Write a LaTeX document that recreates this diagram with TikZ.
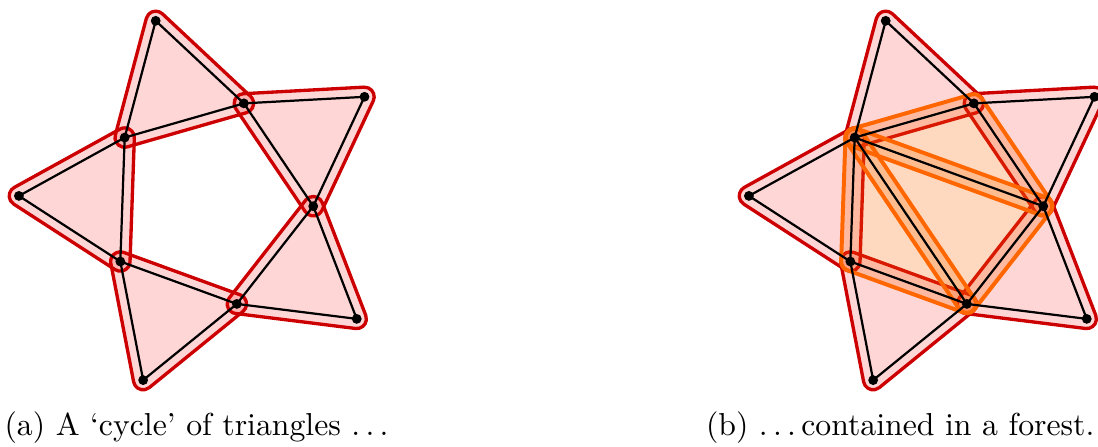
\documentclass[tikz,border=0pt]{standalone}
\usetikzlibrary{calc}
\definecolor{hred}{RGB}{204,0,0}
\definecolor{hpink}{RGB}{255,0,0}
\definecolor{horange}{RGB}{255,102,0}
\def\hr{3.05pt}
\def\ho{2.9pt}
\newcommand\spdots{.\kern0.1667em.\kern0.1667em.}
% #1 style, #2 offset radius, #3 #4 #5 corners in counter-clockwise order
\newcommand\hedge[5]{%
  \path[#1] let \p1=(#3), \p2=(#4), \p3=(#5),
     \n1={atan2(\y2-\y1,\x2-\x1)},
     \n2={atan2(\y3-\y2,\x3-\x2)},
     \n3={atan2(\y1-\y3,\x1-\x3)},
     \n4={\n1-90}, \n5={\n2-90}, \n6={\n3-90},
     \n7={mod(\n2-(\n1)+720,360)},
     \n8={mod(\n3-(\n2)+720,360)},
     \n9={mod(\n1-(\n3)+720,360)}
   in ($(\p1)+(\n4:#2)$) -- ($(\p2)+(\n4:#2)$)
      arc[start angle=\n4, delta angle=\n7, radius=#2]
      -- ($(\p3)+(\n5:#2)$)
      arc[start angle=\n5, delta angle=\n8, radius=#2]
      -- ($(\p1)+(\n6:#2)$)
      arc[start angle=\n6, delta angle=\n9, radius=#2]
      -- cycle;
}
\begin{document}
\begin{tikzpicture}[x=0.315pt,y=0.315pt,
  redH/.style={fill=hpink, fill opacity=0.16, draw=hred, line width=1.05pt, line join=round},
  orH/.style={fill=horange, fill opacity=0.25, draw=horange, line width=1.25pt, line join=round},
  edgeline/.style={line width=0.7pt, black, line cap=round, line join=round},
  vdot/.style={circle, fill=black, inner sep=0pt, minimum size=3.1pt}]
\useasboundingbox (0,0) rectangle (1098,446);
\foreach \f/\cx in {l/207.8, r/937.8} {
  \foreach \k in {0,...,4} {
    \coordinate (\f i\k) at ($(\cx,243.5)+({142-72*\k}:105.5)$);
    \coordinate (\f o\k) at ($(\cx,243.5)+({106-72*\k}:189)$);
  }
}
% red hyperedges
\foreach \f in {l,r} {
  \foreach \k in {0,...,4} {
    \pgfmathtruncatemacro\j{mod(\k+1,5)}
    \hedge{redH}{\hr}{\f o\k}{\f i\k}{\f i\j}
  }
}
% orange hyperedges
\hedge{orH}{\ho}{ri0}{ri2}{ri1}
\hedge{orH}{\ho}{ri0}{ri3}{ri2}
\hedge{orH}{\ho}{ri0}{ri4}{ri3}
% edges
\foreach \f in {l,r} {
  \foreach \k in {0,...,4} {
    \pgfmathtruncatemacro\j{mod(\k+1,5)}
    \draw[edgeline] (\f o\k) -- (\f i\k) -- (\f i\j) -- cycle;
  }
}
\draw[edgeline] (ri0) -- (ri2);
\draw[edgeline] (ri0) -- (ri3);
% vertices
\foreach \f in {l,r} {
  \foreach \k in {0,...,4} {
    \node[vdot] (\f vi\k) at (\f i\k) {};
    \node[vdot] (\f vo\k) at (\f o\k) {};
  }
}
% captions
\node[anchor=base west, inner sep=0pt] (capa) at (4,11) {(a) A `cycle' of triangles \spdots};
\node[anchor=base east, inner sep=0pt] (capb) at (1095,11) {(b) \spdots\kern0.1667em contained in a forest.};
\end{tikzpicture}
\end{document}
